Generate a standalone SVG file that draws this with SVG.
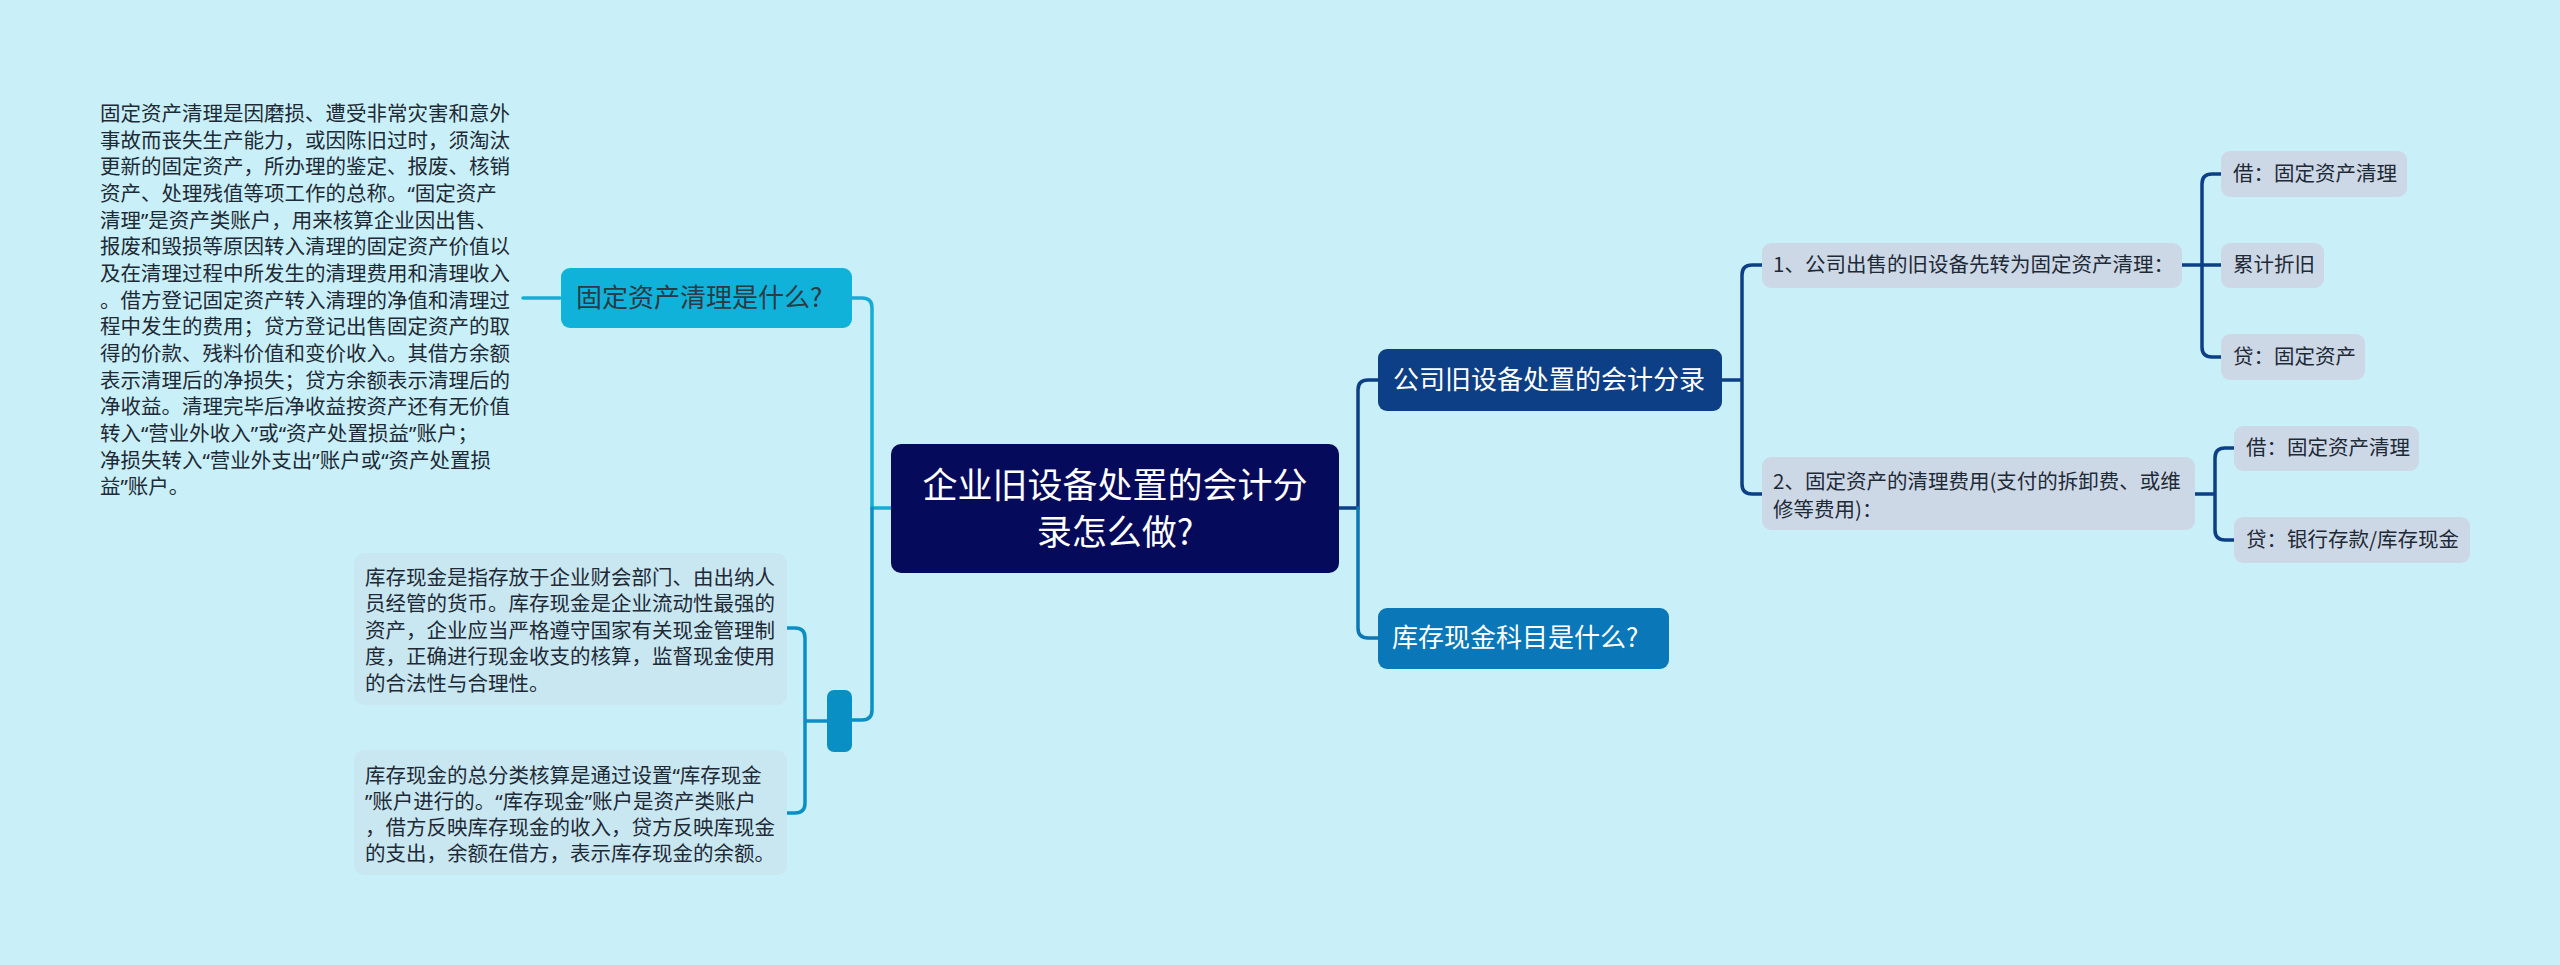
<svg xmlns="http://www.w3.org/2000/svg" width="2560" height="965" viewBox="0 0 2560 965">
<style>
text{font-family:"Noto Sans CJK SC","Noto Sans",sans-serif;}
.c{fill:none;stroke-width:3.5;stroke-linecap:round;}
.cy{stroke:#17acd4;}
.cb{stroke:#0a8fc4;}
.dk{stroke:#0d3f86;}
.md{stroke:#0a77b8;}
.leaf{fill:#cdd8e6;}
.lt{font-size:20.5px;fill:#1e2a36;}
.note{font-size:20.5px;fill:#1e2a36;font-family:"Noto Sans","Noto Sans CJK SC",sans-serif;}
.nb{fill:#c9e7f1;}
</style>
<rect width="2560" height="965" fill="#c9f0f8"/>
<g id="connectors">
<path class="c cy" d="M891 508 H872 V308 Q872 298 862 298 H852"/>
<path class="c cb" d="M872 508 V710 Q872 720 862 720 H852"/>
<path class="c cy" d="M560 298 H523"/>
<path class="c cb" d="M827 721 H805 M805 721 V638 Q805 628 795 628 H787 M805 721 V803 Q805 813 795 813 H787"/>
<path class="c dk" d="M1339 508 H1358 V390 Q1358 380 1368 380 H1378"/>
<path class="c md" d="M1358 508 V628 Q1358 638 1368 638 H1378"/>
<path class="c dk" d="M1722 380 H1742 M1742 380 V275 Q1742 265 1752 265 H1762 M1742 380 V484 Q1742 494 1752 494 H1762"/>
<path class="c dk" d="M2182 265 H2221 M2202 265 V184 Q2202 174 2212 174 H2221 M2202 265 V347 Q2202 357 2212 357 H2221"/>
<path class="c dk" d="M2195 494 H2215 M2215 494 V458 Q2215 448 2225 448 H2234 M2215 494 V530 Q2215 540 2225 540 H2234"/>
</g>
<g id="root">
<rect x="891" y="444" width="448" height="129" rx="10" fill="#060a5a"/>
<text x="1115" y="498" font-size="35" fill="#ffffff" text-anchor="middle">企业旧设备处置的会计分</text>
<text x="1115" y="545" font-size="35" fill="#ffffff" text-anchor="middle">录怎么做?</text>
</g>
<g id="n-accounting">
<rect x="1378" y="349" width="344" height="62" rx="9" fill="#0d3f86"/>
<text x="1393" y="389" font-size="26" fill="#ffffff">公司旧设备处置的会计分录</text>
</g>
<g id="n-cash-q">
<rect x="1378" y="608" width="291" height="61" rx="9" fill="#0a77b8"/>
<text x="1392" y="647" font-size="26" fill="#ffffff">库存现金科目是什么?</text>
</g>
<g id="n-fixed-q">
<rect x="561" y="268" width="291" height="60" rx="9" fill="#10b2d9"/>
<text x="576" y="307" font-size="26" fill="#2b3a44">固定资产清理是什么?</text>
</g>
<g id="n-cash-group">
<rect x="827" y="690" width="25" height="62" rx="7" fill="#0a8fc4"/>
</g>
<g id="n-step1">
<rect class="leaf" x="1762" y="243" width="420" height="45" rx="9"/>
<text class="lt" x="1773" y="272">1、公司出售的旧设备先转为固定资产清理：</text>
</g>
<g id="n-step2">
<rect class="leaf" x="1762" y="457" width="433" height="73" rx="9"/>
<text class="lt" x="1773" y="489">2、固定资产的清理费用(支付的拆卸费、或维</text>
<text class="lt" x="1773" y="517">修等费用)：</text>
</g>
<g id="n-s1-debit">
<rect class="leaf" x="2221" y="151" width="186" height="46" rx="9"/>
<text class="lt" x="2233" y="181">借：固定资产清理</text>
</g>
<g id="n-s1-dep">
<rect class="leaf" x="2221" y="243" width="103" height="45" rx="9"/>
<text class="lt" x="2233" y="272">累计折旧</text>
</g>
<g id="n-s1-credit">
<rect class="leaf" x="2221" y="334" width="144" height="46" rx="9"/>
<text class="lt" x="2233" y="364">贷：固定资产</text>
</g>
<g id="n-s2-debit">
<rect class="leaf" x="2234" y="426" width="185" height="45" rx="9"/>
<text class="lt" x="2246" y="455">借：固定资产清理</text>
</g>
<g id="n-s2-credit">
<rect class="leaf" x="2234" y="517" width="236" height="46" rx="9"/>
<text class="lt" x="2246" y="547">贷：银行存款/库存现金</text>
</g>
<g id="n-fixed-text">
<text class="note" x="100" y="121">固定资产清理是因磨损、遭受非常灾害和意外</text>
<text class="note" x="100" y="147.7">事故而丧失生产能力，或因陈旧过时，须淘汰</text>
<text class="note" x="100" y="174.3">更新的固定资产，所办理的鉴定、报废、核销</text>
<text class="note" x="100" y="201">资产、处理残值等项工作的总称。“固定资产</text>
<text class="note" x="100" y="227.7">清理”是资产类账户，用来核算企业因出售、</text>
<text class="note" x="100" y="254.3">报废和毁损等原因转入清理的固定资产价值以</text>
<text class="note" x="100" y="281">及在清理过程中所发生的清理费用和清理收入</text>
<text class="note" x="100" y="307.7">。借方登记固定资产转入清理的净值和清理过</text>
<text class="note" x="100" y="334.3">程中发生的费用；贷方登记出售固定资产的取</text>
<text class="note" x="100" y="361">得的价款、残料价值和变价收入。其借方余额</text>
<text class="note" x="100" y="387.7">表示清理后的净损失；贷方余额表示清理后的</text>
<text class="note" x="100" y="414.3">净收益。清理完毕后净收益按资产还有无价值</text>
<text class="note" x="100" y="441">转入“营业外收入”或“资产处置损益”账户；</text>
<text class="note" x="100" y="467.7">净损失转入“营业外支出”账户或“资产处置损</text>
<text class="note" x="100" y="494.3">益”账户。</text>
</g>
<g id="n-cash-text1">
<rect class="nb" x="354" y="553" width="433" height="152" rx="10"/>
<text class="note" x="365" y="584.5">库存现金是指存放于企业财会部门、由出纳人</text>
<text class="note" x="365" y="611">员经管的货币。库存现金是企业流动性最强的</text>
<text class="note" x="365" y="637.5">资产，企业应当严格遵守国家有关现金管理制</text>
<text class="note" x="365" y="664">度，正确进行现金收支的核算，监督现金使用</text>
<text class="note" x="365" y="690.5">的合法性与合理性。</text>
</g>
<g id="n-cash-text2">
<rect class="nb" x="354" y="750" width="433" height="125" rx="10"/>
<text class="note" x="365" y="782.5">库存现金的总分类核算是通过设置“库存现金</text>
<text class="note" x="365" y="808.6">”账户进行的。“库存现金”账户是资产类账户</text>
<text class="note" x="365" y="834.7">，借方反映库存现金的收入，贷方反映库现金</text>
<text class="note" x="365" y="860.8">的支出，余额在借方，表示库存现金的余额。</text>
</g>
</svg>
